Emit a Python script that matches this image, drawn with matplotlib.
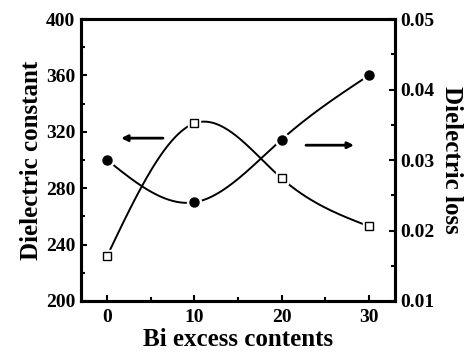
import numpy as np
import matplotlib
matplotlib.use("Agg")
from matplotlib import pyplot as plt
from matplotlib.ticker import MultipleLocator

plt.rcParams['font.family'] = ['Liberation Serif', 'DejaVu Serif']
plt.rcParams['font.weight'] = 'bold'

# data
bi_excess = [0, 10, 20, 30]
diel_const = [232, 326, 287, 253]
diel_loss = [0.0300, 0.0240, 0.0329, 0.0420]


def natural_spline(x, y, n=200):
    # natural cubic spline through the points, for the smooth connecting curve
    x = np.asarray(x, float)
    y = np.asarray(y, float)
    k = len(x)
    h = np.diff(x)
    A = np.zeros((k, k))
    b = np.zeros(k)
    A[0, 0] = A[-1, -1] = 1
    for i in range(1, k - 1):
        A[i, i - 1] = h[i - 1]
        A[i, i] = 2 * (h[i - 1] + h[i])
        A[i, i + 1] = h[i]
        b[i] = 3 * ((y[i + 1] - y[i]) / h[i] - (y[i] - y[i - 1]) / h[i - 1])
    c = np.linalg.solve(A, b)
    xs = np.linspace(x[0], x[-1], n)
    ys = np.empty_like(xs)
    for j, xv in enumerate(xs):
        i = min(np.searchsorted(x, xv, side='right') - 1, k - 2)
        bi = (y[i + 1] - y[i]) / h[i] - h[i] * (2 * c[i] + c[i + 1]) / 3
        di = (c[i + 1] - c[i]) / (3 * h[i])
        t = xv - x[i]
        ys[j] = y[i] + bi * t + c[i] * t ** 2 + di * t ** 3
    return xs, ys


fig = plt.figure(figsize=(4.72, 3.56), dpi=100)
ax = fig.add_axes([0.1716, 0.1545, 0.6653, 0.7921])
ax2 = ax.twinx()

# dielectric constant (left axis), open squares
xs, ys = natural_spline(bi_excess, diel_const)
ax.plot(xs, ys, color='black', lw=1.4, zorder=2)
ax.plot(bi_excess, diel_const, 's', ms=9, color='white', mec='white', zorder=3)
ax.plot(bi_excess, diel_const, 's', ms=5.5, mfc='white', mec='black', mew=1.0, zorder=4)

# dielectric loss (right axis), filled circles
xs, ys = natural_spline(bi_excess, diel_loss)
ax2.plot(xs, ys, color='black', lw=1.4, zorder=2)
ax2.plot(bi_excess, diel_loss, 'o', ms=10, color='white', mec='white', zorder=3)
ax2.plot(bi_excess, diel_loss, 'o', ms=6.5, color='black', zorder=4)

# arrows
ax.annotate('', xy=(1.6, 315.5), xytext=(6.4, 315.5),
            arrowprops=dict(arrowstyle='-|>', color='black', lw=2.0,
                            mutation_scale=9, shrinkA=0, shrinkB=0))
ax2.annotate('', xy=(28.3, 0.0321), xytext=(22.8, 0.0321),
             arrowprops=dict(arrowstyle='-|>', color='black', lw=2.0,
                             mutation_scale=9, shrinkA=0, shrinkB=0))

ax.set_xlim(-3, 33)
ax.set_ylim(200, 400)
ax2.set_ylim(0.01, 0.05)

ax.xaxis.set_major_locator(MultipleLocator(10))
ax.xaxis.set_minor_locator(MultipleLocator(5))
ax.yaxis.set_major_locator(MultipleLocator(40))
ax.yaxis.set_minor_locator(MultipleLocator(20))
ax2.yaxis.set_major_locator(MultipleLocator(0.01))
ax2.yaxis.set_minor_locator(MultipleLocator(0.005))
ax2.yaxis.set_major_formatter(plt.FuncFormatter(lambda v, p: '%.2f' % v))

for a in (ax, ax2):
    for s in a.spines.values():
        s.set_linewidth(2.2)
    a.tick_params(which='both', direction='in', width=1.5, labelsize=14, pad=4)
    a.tick_params(which='major', length=4)
    a.tick_params(which='minor', length=3)
ax.tick_params(axis='x', top=False, which='both', pad=6)

ax.set_xlabel('Bi excess contents', fontsize=18, fontweight='bold', labelpad=1)
ax.set_ylabel('Dielectric constant', fontsize=18, fontweight='bold', labelpad=2)
ax2.set_ylabel('Dielectric loss', fontsize=18, fontweight='bold', rotation=-90, labelpad=20)

fig.savefig('out.png', dpi=100)
